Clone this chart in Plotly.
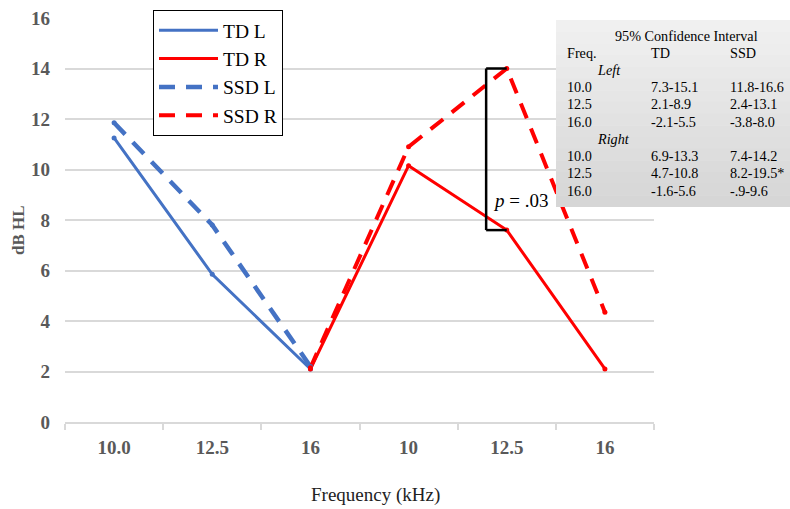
import plotly.graph_objects as go

# ---- data ----
categories = ["10.0", "12.5", "16", "10", "12.5", "16"]
td_l = [11.25, 5.85, 2.1, None, None, None]
td_r = [None, None, 2.1, 10.15, 7.6, 2.1]
ssd_l = [11.85, 7.8, 2.2, None, None, None]
ssd_r = [None, None, 2.15, 10.9, 14.0, 4.35]
y_ticks = [0, 2, 4, 6, 8, 10, 12, 14, 16]

ci_title = "95% Confidence Interval"
ci_header = ["Freq.", "TD", "SSD"]
ci_freqs = ["10.0", "12.5", "16.0"]
td_left_ci = ["7.3-15.1", "2.1-8.9", "-2.1-5.5"]
ssd_left_ci = ["11.8-16.6", "2.4-13.1", "-3.8-8.0"]
td_right_ci = ["6.9-13.3", "4.7-10.8", "-1.6-5.6"]
ssd_right_ci = ["7.4-14.2", "8.2-19.5*", "-.9-9.6"]
p_label = "<i>p</i> = .03"

# ---- layout constants ----
W, H = 790, 509
ML, MR, MT, MB = 65, 136, 18, 87
PW, PH = W - ML - MR, H - MT - MB
FONT = "Liberation Serif, Times New Roman, serif"
BLUE, RED = "#4472C4", "#FF0000"
GRAY_TXT = "#595959"


def px(x):
    return (x - ML) / PW


def py(y):
    return (H - MB - y) / PH


xs = list(range(len(categories)))

fig = go.Figure()
series = [("TD L", td_l, BLUE, 3, None), ("TD R", td_r, RED, 3, None),
          ("SSD L", ssd_l, BLUE, 4.5, "16px,11px"), ("SSD R", ssd_r, RED, 4, "16px,11px")]
for name, vals, col, w, dash in series:
    fig.add_trace(go.Scatter(x=xs, y=vals, name=name, mode="lines",
                             line=dict(color=col, width=w, dash=dash)))
for name, vals, col, w, dash in series:
    fig.add_trace(go.Scatter(x=xs, y=vals, name=name, mode="markers", showlegend=False,
                             marker=dict(size=5, color=col), hoverinfo="skip"))

shapes = []
# bracket between SSD R and TD R at 12.5 (right)
bx = xs[4] - 0.21
shapes.append(dict(type="line", xref="x", yref="y", x0=bx, x1=bx, y0=td_r[4], y1=ssd_r[4],
                   line=dict(color="black", width=2.5)))
shapes.append(dict(type="line", xref="x", yref="y", x0=bx, x1=xs[4], y0=ssd_r[4], y1=ssd_r[4],
                   line=dict(color="black", width=2.5)))
shapes.append(dict(type="line", xref="x", yref="y", x0=bx, x1=xs[4], y0=td_r[4], y1=td_r[4],
                   line=dict(color="black", width=2.5)))

# table background with gradient strips
tx0, tx1, ty0, ty1 = 556, 792, 20, 207
n = 16
c_top, c_bot = 0xF0, 0xD6
for i in range(n):
    c = round(c_top + (c_bot - c_top) * i / (n - 1))
    col = "#%02x%02x%02x" % (c, c, c)
    y0 = ty0 + (ty1 - ty0) * i / n
    y1 = ty0 + (ty1 - ty0) * (i + 1) / n + 0.5
    shapes.append(dict(type="rect", xref="paper", yref="paper", layer="above",
                       x0=px(tx0), x1=px(tx1), y0=py(min(y1, ty1)), y1=py(y0),
                       fillcolor=col, line=dict(width=0)))

annotations = []


def txt(x, y, s, size=14.2, anchor="left", color="black", **kw):
    annotations.append(dict(xref="paper", yref="paper", x=px(x), y=py(y), text=s,
                            showarrow=False, xanchor=anchor, yanchor="middle",
                            font=dict(family=FONT, size=size, color=color), **kw))


txt(686, 36, ci_title, anchor="center")
cols = [565, 649, 728]
for c, h in zip(cols, ci_header):
    txt(c, 53, h)
txt(595, 70, "<i>Left</i>")
rows_left = [87, 104.5, 121.5]
for r, f, a, b in zip(rows_left, ci_freqs, td_left_ci, ssd_left_ci):
    txt(cols[0], r, f)
    txt(cols[1], r, a)
    txt(cols[2], r, b)
txt(595, 139, "<i>Right</i>")
rows_right = [156, 173, 190.5]
for r, f, a, b in zip(rows_right, ci_freqs, td_right_ci, ssd_right_ci):
    txt(cols[0], r, f)
    txt(cols[1], r, a)
    txt(cols[2], r, b)

# p-value
txt(491, 201, p_label, size=19)
# axis titles
txt(18, 230, "<b>dB HL</b>", size=17, anchor="center", color=GRAY_TXT, textangle=-90)
txt(375, 495, "Frequency (kHz)", size=19, anchor="center", color="#222222")

fig.update_layout(
    width=W, height=H,
    margin=dict(l=ML, r=MR, t=MT, b=MB, autoexpand=False),
    paper_bgcolor="white", plot_bgcolor="white",
    font=dict(family=FONT, color=GRAY_TXT),
    shapes=shapes, annotations=annotations,
    showlegend=True,
    legend=dict(x=px(153), y=py(10), xanchor="left", yanchor="top",
                bordercolor="black", borderwidth=1, bgcolor="white",
                font=dict(family=FONT, size=19.5, color="black"),
                itemwidth=59, tracegroupgap=0),
    xaxis=dict(range=[-0.5, len(categories) - 0.5], tickvals=xs, ticktext=categories,
               ticks="", showgrid=False, zeroline=False, showline=True,
               linecolor="#d9d9d9", linewidth=1.5,
               tickfont=dict(family=FONT, size=19, color=GRAY_TXT, weight="bold"),
               ticklabelstandoff=7,
               minor=dict(tickvals=[i - 0.5 for i in range(len(categories) + 1)],
                          ticks="outside", ticklen=6, tickcolor="#d9d9d9", tickwidth=1.5,
                          showgrid=False),
               fixedrange=True),
    yaxis=dict(range=[0, 16], tickvals=y_ticks, showgrid=True, gridcolor="#d9d9d9",
               gridwidth=1.5, zeroline=False, showline=False, ticks="",
               tickfont=dict(family=FONT, size=19, color=GRAY_TXT, weight="bold"),
               ticklabelstandoff=14, fixedrange=True),
)

fig.write_html("out.html", config={"displayModeBar": False},
               post_script="document.body.style.margin='0';")
